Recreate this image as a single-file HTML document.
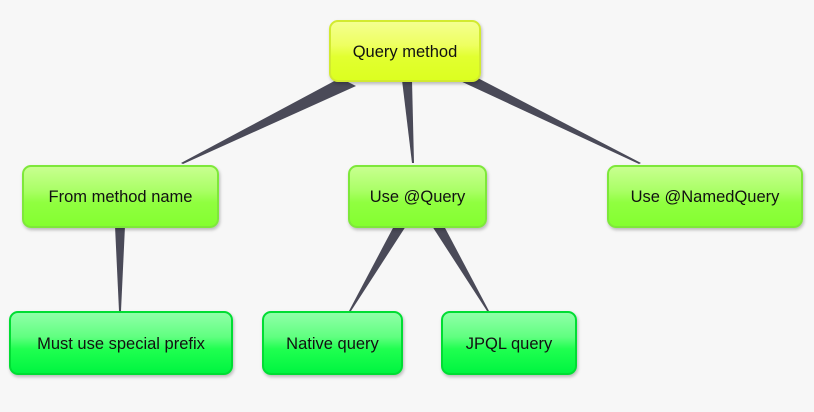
<!DOCTYPE html>
<html><head><style>
body{margin:0;width:814px;height:412px;background:#f7f7f7;font-family:"Liberation Sans",sans-serif;position:relative;overflow:hidden}
.n{position:absolute;box-sizing:border-box;border-radius:9px;display:flex;align-items:center;justify-content:center;font-size:16.5px;padding-top:2px;color:#111;box-shadow:1px 2px 3px rgba(0,0,0,.25)}
.y{background:linear-gradient(#f4ff90 0%,#eeff60 40%,#e2ff30 60%,#dcff20 100%);border:2px solid #d2ea30}
.g{background:linear-gradient(#c8ff90 0%,#aaff66 40%,#90ff40 60%,#84ff30 100%);border:2px solid #7ee83a}
.b{background:linear-gradient(#90ffa8 0%,#60ff80 40%,#20ff50 60%,#00f540 100%);border:2px solid #00dd33}
svg{position:absolute;left:0;top:0}
</style></head><body>
<svg width="814" height="412"><g fill="#4a4a58">
<polygon points="340,78 356,86 183,164 181,163"/>
<polygon points="402,80 412,80 414,163 412,163"/>
<polygon points="458,80 470,74 641,163 639,164"/>
<polygon points="115,226 125,226 121,311 119,311"/>
<polygon points="394,226 406,226 351,311 349,311"/>
<polygon points="432,226 444,226 489,311 487,311"/>
</g></svg>
<div class="n y" style="left:329px;top:20px;width:152px;height:62px">Query method</div>
<div class="n g" style="left:22px;top:165px;width:197px;height:63px">From method name</div>
<div class="n g" style="left:348px;top:165px;width:139px;height:63px">Use @Query</div>
<div class="n g" style="left:607px;top:165px;width:196px;height:63px">Use @NamedQuery</div>
<div class="n b" style="left:9px;top:311px;width:224px;height:64px">Must use special prefix</div>
<div class="n b" style="left:262px;top:311px;width:141px;height:64px">Native query</div>
<div class="n b" style="left:441px;top:311px;width:136px;height:64px">JPQL query</div>
</body></html>
